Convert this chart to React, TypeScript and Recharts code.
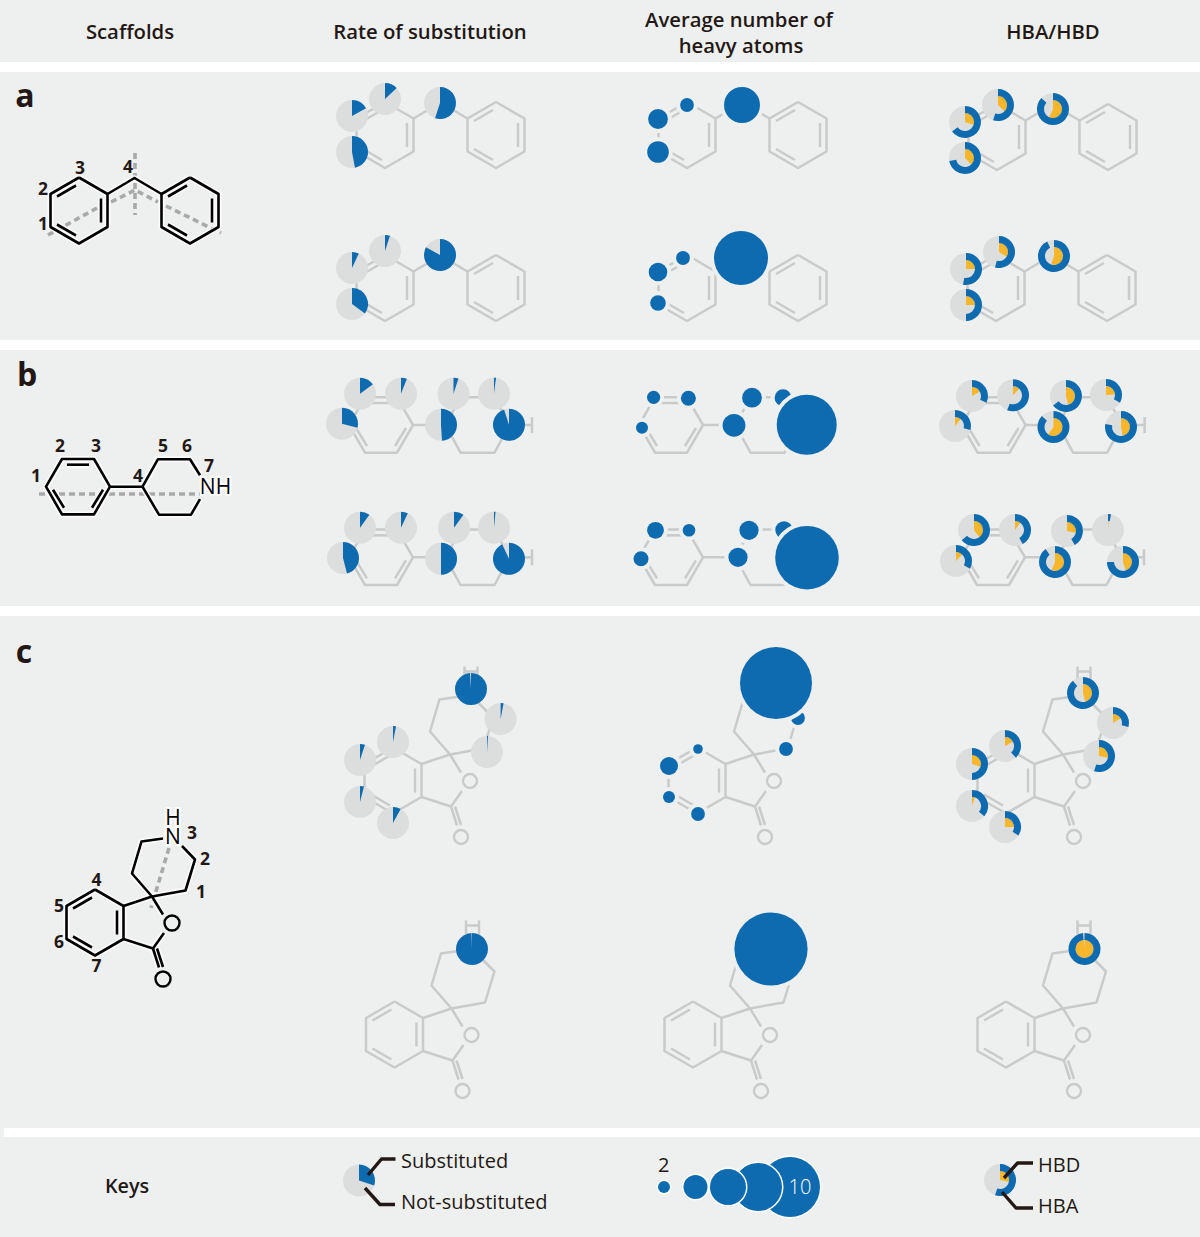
import { ScatterChart, Scatter, XAxis, YAxis, ReferenceArea, Sector } from "recharts";

const WIDTH = 1200;
const HEIGHT = 1237;

const PANEL = "#eef0ef";
const BLUE = "#0e6bb0";
const GREY = "#dcdddd";
const ORANGE = "#f8b62b";
const BOND = "#c9caca";
const DASH = "#a9a9a9";
const INK = "#231815";
const FONT = "'Open Sans', sans-serif";

type Pt = [number, number];

// panels, top to bottom (the last two keep a grey sliver on the left edge)
const panels = [
  { x1: 0, x2: 1200, y1: 0, y2: 62 },
  { x1: 0, x2: 1200, y1: 72, y2: 340 },
  { x1: 0, x2: 1200, y1: 350, y2: 606 },
  { x1: 0, x2: 1200, y1: 616, y2: 1128 },
  { x1: 0, x2: 4, y1: 1128, y2: 1137 },
  { x1: 0, x2: 1200, y1: 1137, y2: 1237 },
];

// molecule outlines, relative to the first ring's centre
const benzenePointy: Pt[][] = [
  [[0, -33], [28.5, -16.5], [28.5, 16.5], [0, 33], [-28.5, 16.5], [-28.5, -16.5], [0, -33]],
  [[-22, -14], [-3, -25]],
  [[22, -12], [22, 12]],
  [[-22, 14], [-3, 25]],
];
const shift = (polys: Pt[][], dx: number): Pt[][] => polys.map((p) => p.map(([x, y]) => [x + dx, y] as Pt));

const molA: Pt[][] = [
  ...benzenePointy,
  [[28.5, -16.5], [55.5, -32.5], [82.5, -16.5]],
  ...shift(benzenePointy, 111),
];

const molBRing1: Pt[][] = [
  [[32, 0], [16, 27.7], [-16, 27.7], [-32, 0], [-16, -27.7], [16, -27.7], [32, 0]],
  [[-11, -22], [11, -22]],
  [[-25, 3], [-14, 21]],
  [[25, 3], [14, 21]],
  [[32, 0], [64.5, 0]],
];
const molB: Pt[][] = [
  ...molBRing1,
  [[64.5, 0], [79.5, -27.7], [113.5, -27.7], [128.5, 0], [113.5, 27.7], [79.5, 27.7], [64.5, 0]],
  [[128.5, 0], [151, 0]],
  [[151, -8], [151, 8]],
];
const molBScaffold: Pt[][] = [
  ...molBRing1,
  [[122, -11.5], [112, -27.5], [80, -27.5], [64.5, 0], [81, 28], [113, 28], [122, 12.5]],
];

const molCBody: Pt[][] = [
  ...benzenePointy,
  [[28.5, -16.5], [57, -26]],
  [[57, -26], [68, -8]],
  [[69, 10.5], [58, 26], [28.5, 16.5]],
  [[58, 26], [64, 45]],
  [[62, 26], [68, 44.5]],
];
const molC: Pt[][] = [
  ...molCBody,
  [[57, -26], [37, -49], [46.5, -81], [77.5, -85.5], [100, -63], [90.5, -32], [57, -26]],
  [[71.5, -114], [71.5, -100]],
  [[84.5, -114], [84.5, -100]],
  [[71.5, -109], [84.5, -109]],
];
const molCScaffold: Pt[][] = [
  ...molCBody,
  [[68, -84], [46.5, -81], [37, -49], [57, -26], [90.5, -32], [100, -63], [87, -76.5]],
];
const molCOxygens: Pt[] = [[77, 0.5], [68, 56.5]];

// where each faded molecule sits
const molAAnchors: Pt[] = [[385, 135], [385, 288], [687, 135], [687, 288], [997, 137], [996, 288]];
const molBAnchors: Pt[] = [[381, 425], [381, 557.3], [671, 425], [671, 557.3], [993.6, 425], [993, 557.3]];
const molCAnchors: Pt[] = [[393, 780.5], [394.5, 1034.5], [697, 780.5], [693, 1034.5], [1006, 780.5], [1006, 1034.5]];

const scaffoldAnchorA: Pt = [79, 210.5];
const scaffoldAnchorB: Pt = [78, 486.7];
const scaffoldAnchorC: Pt = [95, 922.5];

// grey dashed rotatable-bond guides on the scaffolds
const dashLines: Pt[][] = [
  [[48, 235], [97, 208]],
  [[111, 202], [135, 190], [158, 202]],
  [[166, 206], [221, 233]],
  [[135, 153], [135, 215]],
  [[39, 494], [201, 494]],
  [[169, 848], [151, 908]],
];

// ---- series a, sites 1,2,3,4
const aRateTopSites: Pt[] = [[352, 152], [352, 116], [385, 99], [440, 103]];
const aRateBotSites: Pt[] = [[352, 304], [352, 268], [385, 251], [440, 255]];
const aRateTop = [0.47, 0.17, 0.13, 0.55];
const aRateBot = [0.35, 0.07, 0.05, 0.83];

const aAtomTopSites: Pt[] = [[658, 152], [658, 119], [687, 105], [742, 105]];
const aAtomBotSites: Pt[] = [[658, 303], [658, 272], [683, 258], [741, 258]];
const aAtomTop = [3.6, 3.3, 2.3, 6];
const aAtomBot = [2.6, 3.1, 2.3, 9];

const aHbTopSites: Pt[] = [[965, 158], [965, 122], [998, 105], [1053, 109]];
const aHbBotSites: Pt[] = [[966, 305], [966, 269], [999, 252], [1054, 256]];
const aHbaTop = [0.72, 0.65, 0.55, 0.87];
const aHbdTop = [0.38, 0.3, 0.37, 0.57];
const aHbaBot = [0.5, 0.53, 0.54, 0.93];
const aHbdBot = [0.25, 0.25, 0.34, 0.55];

// ---- series b, sites 1,2,3,5,6,4,7
const bRateTopSites: Pt[] = [[342, 423.7], [360, 393.7], [401, 393.7], [453.5, 393.7], [494, 393.7], [441, 424.7], [509, 424.7]];
const bRateBotSites: Pt[] = [[343, 558], [360, 527.7], [401, 527.7], [454, 527.7], [494, 527.7], [441, 558.8], [509, 558.8]];
const bRateTop = [0.29, 0.15, 0.06, 0.05, 0.02, 0.49, 0.95];
const bRateBot = [0.46, 0.1, 0.07, 0.1, 0.015, 0.5, 0.93];

const bAtomTopSites: Pt[] = [[642, 427.7], [653.6, 397.3], [688.4, 398.3], [734, 425.3], [752, 397.7], [783, 397.7], [806.7, 424.7]];
const bAtomBotSites: Pt[] = [[641, 558.7], [655.5, 530.3], [689, 530.3], [738, 557.3], [749, 530.3], [784, 530], [807, 557.7]];
const bAtomTop = [2, 2.2, 2.5, 3.8, 3.3, 2.8, 10];
const bAtomBot = [2.5, 2.8, 2.1, 3.2, 3.2, 2.9, 10.6];

const bHbTopSites: Pt[] = [[955, 426], [972, 396], [1013, 395.3], [1066, 396], [1106, 395], [1053.5, 427], [1121, 427]];
const bHbBotSites: Pt[] = [[956, 561], [974, 530], [1015, 530], [1067, 531], [1108, 530], [1055, 562], [1123, 562]];
const bHbaTop = [0.29, 0.32, 0.56, 0.65, 0.33, 0.87, 0.78];
const bHbdTop = [0.11, 0.17, 0.12, 0.46, 0.24, 0.6, 0.47];
const bHbaBot = [0.33, 0.64, 0.42, 0.42, 0.03, 0.9, 0.75];
const bHbdBot = [0.12, 0.4, 0.1, 0.28, 0.01, 0.56, 0.45];

// ---- series c, sites 4,5,6,7,1,2,3
const cRateTopSites: Pt[] = [[393, 742], [360, 760], [360, 802], [393, 823], [487, 752], [500.6, 719], [471, 689]];
const cRateBotSites: Pt[] = [[472, 949]];
const cRateTop = [0.03, 0.05, 0.04, 0.08, 0.01, 0.03, 0.99];
const cRateBot = [0.995];

const cAtomTopSites: Pt[] = [[698, 749], [669, 766], [669, 797], [698, 814], [786, 749], [798, 718], [776, 683]];
const cAtomBotSites: Pt[] = [[771, 949]];
const cAtomTop = [1.6, 3, 2, 2.3, 2.3, 2.3, 12];
const cAtomBot = [12.2];

const cHbTopSites: Pt[] = [[1005, 746], [972, 764], [972, 806], [1005, 827], [1099, 756], [1113, 723], [1083, 693]];
const cHbBotSites: Pt[] = [[1084.5, 949]];
const cHbaTop = [0.38, 0.5, 0.36, 0.34, 0.55, 0.29, 0.89];
const cHbdTop = [0.17, 0.3, 0.05, 0.25, 0.28, 0.16, 0.46];
const cHbaBot = [0.985];
const cHbdBot = [0.985];

// ---- keys
const keyRateSites: Pt[] = [[359, 1180.5]];
const keyRate = [0.3];
const keyAtomSites: Pt[] = [[790, 1187], [758, 1187], [728, 1187], [695.5, 1187], [664, 1187]];
const keyAtoms = [10, 8, 6, 4, 2];
const keyHbSites: Pt[] = [[1000, 1180]];
const keyHba = [0.55];
const keyHbd = [0.28];
const keyLeaders: Pt[][] = [
  [[368, 1175], [381.5, 1159], [395.5, 1159]],
  [[365, 1188], [380, 1204.5], [395, 1204.5]],
  [[1004, 1178], [1017.6, 1163], [1033, 1163]],
  [[1002, 1192], [1016, 1208], [1033, 1208]],
];

// ---- text
const headerLabels = ["Scaffolds", "Rate of substitution", "Average number of", "heavy atoms", "HBA/HBD"];
const headerSpots: Pt[] = [[130, 31], [430, 31], [739, 19], [741, 45], [1053, 31]];
const panelLetters = ["a", "b", "c"];
const panelLetterSpots: Pt[] = [[25, 94], [27, 373], [24, 650]];
const siteLabels = ["3", "2", "1", "4", "1", "2", "3", "4", "5", "6", "7", "3", "2", "1", "4", "5", "6", "7"];
const siteLabelSpots: Pt[] = [
  [80, 167], [43, 188], [43, 223], [128, 166],
  [36, 475], [60, 445], [96, 445], [138, 475], [163, 445], [187, 445], [209, 465],
  [192, 832], [205, 858], [201, 891], [96.5, 879], [59, 905], [59, 941], [96.5, 965],
];
const atomLabels = ["NH", "N", "H"];
const atomLabelSpots: Pt[] = [[215.5, 486], [173, 836], [173, 817]];
const keyLabels = ["Substituted", "Not-substituted", "2", "HBD", "HBA"];
const keyLabelSpots: Pt[] = [[401, 1160], [401, 1201], [658, 1164], [1038, 1164], [1038, 1205]];

const toPoints = (sites: Pt[], values: Record<string, any> = {}) =>
  sites.map(([x, y], i) => {
    const row: any = { x, y };
    for (const k of Object.keys(values)) row[k] = Array.isArray(values[k]) ? values[k][i] : values[k];
    return row;
  });

const noMark = () => <g />;

function polySeries(polys: Pt[][], dx: number, dy: number, style: any, key: string) {
  return polys.map((poly, i) => (
    <Scatter
      key={`${key}-${i}`}
      data={poly.map(([x, y]) => ({ x: x + dx, y: y + dy }))}
      line={{ fill: "none", strokeLinejoin: "round", strokeLinecap: "butt", ...style }}
      shape={noMark}
      isAnimationActive={false}
    />
  ));
}

function ringShape(r: number, stroke: string, width: number) {
  return (p: any) => <circle cx={p.cx} cy={p.cy} r={r} stroke={stroke} strokeWidth={width} fill="none" />;
}

const sweep = (v: number) => 90 - 360 * v;

const ratePie = (p: any) => (
  <g>
    <circle cx={p.cx} cy={p.cy} r={16} fill={GREY} />
    <Sector cx={p.cx} cy={p.cy} innerRadius={0} outerRadius={16} startAngle={90} endAngle={sweep(p.payload.rate)} fill={BLUE} />
  </g>
);

const hbPie = (p: any) => (
  <g>
    <circle cx={p.cx} cy={p.cy} r={16} fill={GREY} />
    <Sector cx={p.cx} cy={p.cy} innerRadius={0} outerRadius={9} startAngle={90} endAngle={sweep(p.payload.hbd)} fill={ORANGE} />
    <Sector cx={p.cx} cy={p.cy} innerRadius={9} outerRadius={16} startAngle={90} endAngle={sweep(p.payload.hba)} fill={BLUE} />
  </g>
);

// one heavy atom is 3px of radius on the key
const atomBubble = (halo: string, gap: number) => (p: any) => {
  const r = p.payload.atoms * 3;
  return (
    <g>
      <circle cx={p.cx} cy={p.cy} r={r + gap} fill={halo} />
      <circle cx={p.cx} cy={p.cy} r={r} fill={BLUE} />
    </g>
  );
};

const textShape = (style: any, anchor = "middle") => (p: any) => (
  <text x={p.cx} y={p.cy} textAnchor={anchor} dominantBaseline="central" fontFamily={FONT} {...style}>
    {p.payload.label}
  </text>
);

function textSeries(labels: string[], spots: Pt[], style: any, key: string, anchor = "middle") {
  return (
    <Scatter
      key={key}
      data={toPoints(spots, { label: labels })}
      shape={textShape(style, anchor)}
      isAnimationActive={false}
    />
  );
}

function faded(polys: Pt[][], anchors: Pt[], key: string) {
  return anchors.flatMap(([ax, ay], i) => polySeries(polys, ax, ay, { stroke: BOND, strokeWidth: 2.5 }, `${key}${i}`));
}

function black(polys: Pt[][], [ax, ay]: Pt, key: string) {
  return [
    ...polySeries(polys, ax, ay, { stroke: "#ffffff", strokeWidth: 6, strokeOpacity: 0.75 }, `${key}h`),
    ...polySeries(polys, ax, ay, { stroke: "#000000", strokeWidth: 2.6 }, `${key}b`),
  ];
}

function rateSeries(sites: Pt[], rate: number[], key: string) {
  return <Scatter key={key} data={toPoints(sites, { rate })} shape={ratePie} isAnimationActive={false} />;
}
function atomSeries(sites: Pt[], atoms: number[], key: string) {
  return <Scatter key={key} data={toPoints(sites, { atoms })} shape={atomBubble(PANEL, 4)} isAnimationActive={false} />;
}
function hbSeries(sites: Pt[], hba: number[], hbd: number[], key: string) {
  return <Scatter key={key} data={toPoints(sites, { hba, hbd })} shape={hbPie} isAnimationActive={false} />;
}

const fadedOxygens = molCAnchors.flatMap(([ax, ay]) =>
  molCOxygens.map(([x, y]) => ({ x: ax + x, y: ay + y })),
);
const scaffoldOxygens = molCOxygens.map(([x, y]) => ({ x: scaffoldAnchorC[0] + x, y: scaffoldAnchorC[1] + y }));

export default function App() {
  return (
    <div style={{ position: "absolute", left: 0, top: 0, width: WIDTH, height: HEIGHT, background: "#ffffff" }}>
      <ScatterChart width={WIDTH} height={HEIGHT} margin={{ top: 0, right: 0, bottom: 0, left: 0 }}>
        <XAxis type="number" dataKey="x" domain={[0, WIDTH]} hide allowDataOverflow />
        <YAxis type="number" dataKey="y" domain={[0, HEIGHT]} reversed hide allowDataOverflow />
        {panels.map((p, i) => (
          <ReferenceArea key={i} x1={p.x1} x2={p.x2} y1={p.y1} y2={p.y2} fill={PANEL} fillOpacity={1} stroke="none" />
        ))}

        {textSeries(headerLabels, headerSpots, { fontSize: 20.3, fontWeight: 600, fill: INK }, "headers")}
        {textSeries(panelLetters, panelLetterSpots, { fontSize: 32, fontWeight: 700, fill: INK }, "letters")}

        {/* scaffolds */}
        {polySeries(dashLines, 0, 0, { stroke: DASH, strokeWidth: 3.6, strokeDasharray: "6 4" }, "dash")}
        {black(molA, scaffoldAnchorA, "sa")}
        {black(molBScaffold, scaffoldAnchorB, "sb")}
        {black(molCScaffold, scaffoldAnchorC, "sc")}
        <Scatter data={scaffoldOxygens} shape={ringShape(7.5, "#000000", 2.4)} isAnimationActive={false} />
        {textSeries(siteLabels, siteLabelSpots, { fontSize: 17.5, fontWeight: 700, fill: INK }, "sites")}
        {textSeries(atomLabels, atomLabelSpots, { fontSize: 21, fontWeight: 400, fill: "#000000", stroke: "#ffffff", strokeWidth: 4, paintOrder: "stroke" }, "atoms")}

        {/* faded molecules */}
        {faded(molA, molAAnchors, "fa")}
        {faded(molB, molBAnchors, "fb")}
        {faded(molC, molCAnchors, "fc")}
        <Scatter data={fadedOxygens} shape={ringShape(7, BOND, 2.4)} isAnimationActive={false} />

        {/* rate of substitution */}
        {rateSeries(aRateTopSites, aRateTop, "r1")}
        {rateSeries(aRateBotSites, aRateBot, "r2")}
        {rateSeries(bRateTopSites, bRateTop, "r3")}
        {rateSeries(bRateBotSites, bRateBot, "r4")}
        {rateSeries(cRateTopSites, cRateTop, "r5")}
        {rateSeries(cRateBotSites, cRateBot, "r6")}

        {/* heavy atoms */}
        {atomSeries(aAtomTopSites, aAtomTop, "n1")}
        {atomSeries(aAtomBotSites, aAtomBot, "n2")}
        {atomSeries(bAtomTopSites, bAtomTop, "n3")}
        {atomSeries(bAtomBotSites, bAtomBot, "n4")}
        {atomSeries(cAtomTopSites, cAtomTop, "n5")}
        {atomSeries(cAtomBotSites, cAtomBot, "n6")}

        {/* HBA / HBD */}
        {hbSeries(aHbTopSites, aHbaTop, aHbdTop, "h1")}
        {hbSeries(aHbBotSites, aHbaBot, aHbdBot, "h2")}
        {hbSeries(bHbTopSites, bHbaTop, bHbdTop, "h3")}
        {hbSeries(bHbBotSites, bHbaBot, bHbdBot, "h4")}
        {hbSeries(cHbTopSites, cHbaTop, cHbdTop, "h5")}
        {hbSeries(cHbBotSites, cHbaBot, cHbdBot, "h6")}

        {/* keys */}
        {rateSeries(keyRateSites, keyRate, "kr")}
        <Scatter data={toPoints(keyAtomSites, { atoms: keyAtoms })} shape={atomBubble("#ffffff", 1.5)} isAnimationActive={false} />
        {hbSeries(keyHbSites, keyHba, keyHbd, "kh")}
        {polySeries(keyLeaders, 0, 0, { stroke: INK, strokeWidth: 3.4 }, "lead")}
        {textSeries(["Keys"], [[127, 1185]], { fontSize: 19.8, fontWeight: 600, fill: INK }, "keys")}
        {textSeries(keyLabels, keyLabelSpots, { fontSize: 20, fontWeight: 400, fill: INK }, "keylabels", "start")}
        {textSeries(["10"], [[800, 1186]], { fontSize: 20, fontWeight: 300, fill: "#ffffff" }, "ten")}
      </ScatterChart>
    </div>
  );
}
